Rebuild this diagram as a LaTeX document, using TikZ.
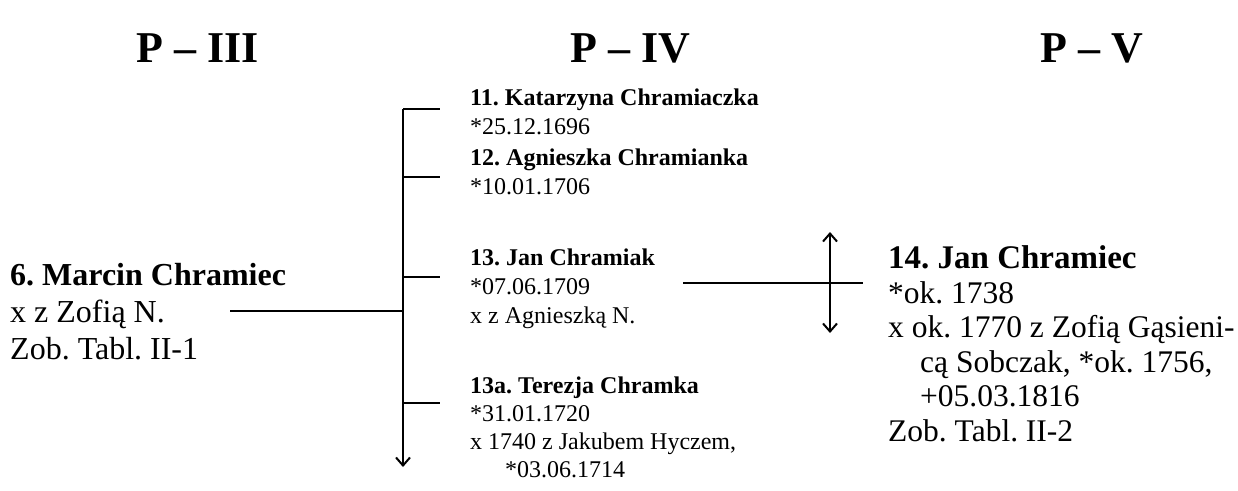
\documentclass[tikz,border=0pt]{standalone}
\usepackage{fontspec}
\setmainfont{Liberation Serif}
\frenchspacing
\usetikzlibrary{arrows.meta}

\tikzset{
  gen/.style={anchor=base,inner sep=0pt,font=\bfseries\fontsize{44}{50}\selectfont},
  bigperson/.style={anchor=base west,inner sep=0pt,align=left,font=\fontsize{32}{37}\selectfont},
  smallperson/.style={anchor=base west,inner sep=0pt,align=left,font=\fontsize{24}{29}\selectfont},
  rel/.style={line width=2pt},
  barb/.style={-{Straight Barb[length=8pt,width=14pt]}},
  dbarb/.style={{Straight Barb[length=8pt,width=14pt]}-{Straight Barb[length=8pt,width=14pt]}}
}

\begin{document}
\begin{tikzpicture}[x=1pt,y=-1pt]
\useasboundingbox (0,0) rectangle (1238,490);

% generations
\node[gen] (p3) at (198,62) {P -- III};
\node[gen] (p4) at (630,62) {P -- IV};
\node[gen] (p5) at (1092,62) {P -- V};

% persons (anchored at the baseline of the last line)
\node[bigperson] (marcin) at (10,359) {\textbf{6. Marcin Chramiec}\\x z Zofią N.\\Zob. Tabl. II-1};
\node[smallperson] (katarzyna) at (470,134) {\textbf{11. Katarzyna Chramiaczka}\\*25.12.1696};
\node[smallperson] (agnieszka) at (470,194) {\textbf{12. Agnieszka Chramianka}\\*10.01.1706};
\node[smallperson] (jan13) at (470,323) {\textbf{13. Jan Chramiak}\\*07.06.1709\\x z Agnieszką N.};
\node[smallperson,font=\fontsize{24}{28}\selectfont] (terezja) at (470,477) {\textbf{13a. Terezja Chramka}\\*31.01.1720\\x 1740 z Jakubem Hyczem,\\\hspace*{35pt}*03.06.1714};
\node[bigperson,font=\fontsize{31.5}{34.5}\selectfont] (jan14) at (888,441) {{\fontsize{33}{34.5}\selectfont\textbf{14. Jan Chramiec}}\\*ok. 1738\\x ok. 1770 z Zofią Gąsieni-\\\hspace*{32pt}cą Sobczak, *ok. 1756,\\\hspace*{32pt}+05.03.1816\\Zob. Tabl. II-2};

% children bracket
\coordinate (m-out) at (230,311);
\coordinate (bus-top) at (403,109);
\coordinate (bus-end) at (403,467);
\draw[rel] (m-out) -- (m-out-|bus-top);
\draw[rel,barb] (bus-top) -- (bus-end);
\foreach \y in {109,177,277,403}
  \draw[rel] (403,\y) -- (440,\y);

% line to next generation
\coordinate (j-out) at (683,283);
\coordinate (j-in) at (863,283);
\coordinate (up) at (830,232);
\coordinate (down) at (830,333);
\draw[rel] (j-out) -- (j-in);
\draw[rel,dbarb] (up) -- (down);
\end{tikzpicture}
\end{document}
